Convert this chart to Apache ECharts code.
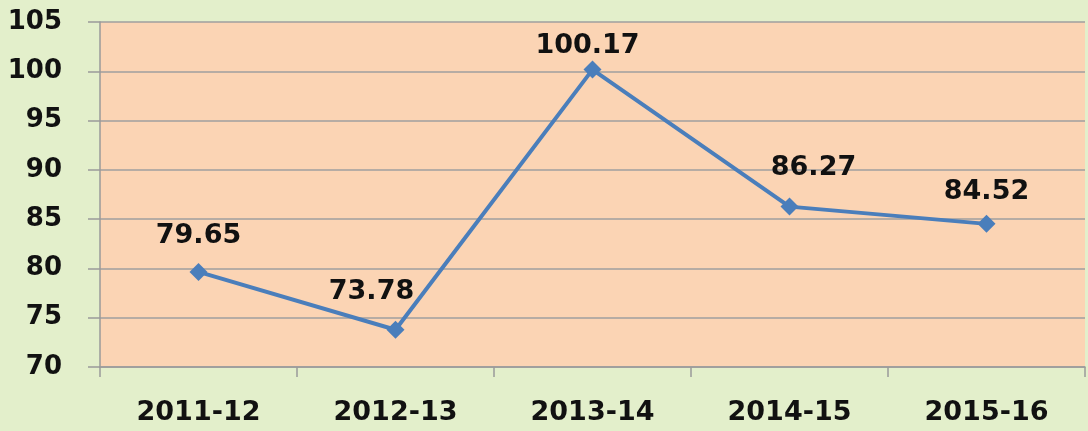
<!DOCTYPE html>
<html>
<head>
<meta charset="utf-8">
<script src="https://cdn.jsdelivr.net/npm/echarts@6/dist/echarts.min.js"></script>
<style>
  html, body { margin: 0; padding: 0; background: #e3efcb; }
  #main { width: 1088px; height: 431px; }
</style>
</head>
<body>
<div id="main"></div>
<script>
var years = ['2011-12', '2012-13', '2013-14', '2014-15', '2015-16'];
var values = [79.65, 73.78, 100.17, 86.27, 84.52];
// label nudges (dx, gap above the marker) to follow the original placement
var labelDx = [0, -24, -5, 24, 0];
var labelGaps = [13, 15, 1, 16, 9];

var chart = echarts.init(document.getElementById('main'));

var seriesData = [];
for (var i = 0; i < values.length; i++) {
    seriesData.push({
        value: values[i],
        label: { distance: labelGaps[i], offset: [labelDx[i], 0] }
    });
}

chart.setOption({
    backgroundColor: '#e3efcb',
    animation: false,
    grid: {
        left: 100,
        right: 3,
        top: 22,
        bottom: 64,
        show: true,
        backgroundColor: '#fbd4b4',
        borderWidth: 0
    },
    xAxis: {
        type: 'category',
        data: years,
        boundaryGap: true,
        axisLine: { lineStyle: { color: '#9a9a9a', width: 1.5 } },
        axisTick: { show: true, length: 10, lineStyle: { color: '#9a9a9a', width: 1.5 } },
        axisLabel: {
            margin: 32,
            color: '#111',
            fontFamily: 'DejaVu Sans',
            fontWeight: 'bold',
            fontSize: 27
        }
    },
    yAxis: {
        type: 'value',
        min: 70,
        max: 105,
        interval: 5,
        axisLine: { show: true, lineStyle: { color: '#9a9a9a', width: 1.5 } },
        axisTick: { show: true, length: 12, lineStyle: { color: '#9a9a9a', width: 1.5 } },
        splitLine: { lineStyle: { color: '#9f9f9f', width: 1.5 } },
        axisLabel: {
            margin: 38,
            color: '#111',
            fontFamily: 'DejaVu Sans',
            fontWeight: 'bold',
            fontSize: 26
        }
    },
    series: [{
        type: 'line',
        data: seriesData,
        symbol: 'diamond',
        symbolSize: 18,
        lineStyle: { color: '#4a7ebb', width: 4 },
        itemStyle: { color: '#4a7ebb' },
        label: {
            show: true,
            position: 'top',
            color: '#111',
            fontFamily: 'DejaVu Sans',
            fontWeight: 'bold',
            fontSize: 27
        }
    }]
});
window.onresize = chart.resize;
</script>
</body>
</html>
